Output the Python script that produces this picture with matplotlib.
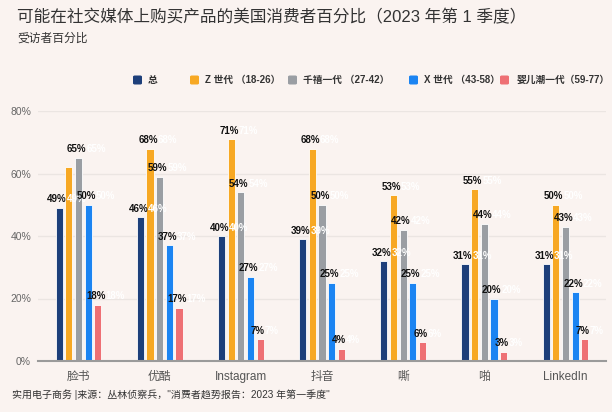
import matplotlib
matplotlib.use('Agg')
import matplotlib.pyplot as plt
import numpy as np
from matplotlib.patches import FancyBboxPatch

plt.rcParams['font.family'] = ['Liberation Sans', 'Noto Sans CJK SC', 'DejaVu Sans']

# ---------------- data ----------------
categories = ['脸书', '优酷', 'Instagram', '抖音', '嘶', '啪', 'LinkedIn']
series_names = ['总', 'Z 世代 （18-26）', '千禧一代 （27-42）', 'X 世代 （43-58）', '婴儿潮一代（59-77）']
total = [49, 46, 40, 39, 32, 31, 31]
gen_z = [62, 68, 71, 68, 53, 55, 50]
millennials = [65, 59, 54, 50, 42, 44, 43]
gen_x = [50, 37, 27, 25, 25, 20, 22]
boomers = [18, 17, 7, 4, 6, 3, 7]
y_ticks = [0, 20, 40, 60, 80]
hidden_labels = {(1, 0)}  # (series index, category index) labels not shown

series = [total, gen_z, millennials, gen_x, boomers]
colors = ['#1d3f7a', '#f7a823', '#9a9ea3', '#1b84f2', '#ee7074']

BG = '#faf3f0'
W, H = 612, 412
fig = plt.figure(figsize=(W / 100, H / 100), dpi=100, facecolor=BG)

def fx(px):
    return px / W

def fy(py):
    return 1 - py / H

ax_l, ax_r, ax_t, ax_b = 38, 606, 111, 361
ax = fig.add_axes([fx(ax_l), fy(ax_b), fx(ax_r - ax_l), (ax_b - ax_t) / H])
ax.set_facecolor(BG)

x = np.arange(len(categories))
pitch = 0.119
width = 0.088
offsets = (np.arange(len(series)) - 2) * pitch

for si, (vals, col) in enumerate(zip(series, colors)):
    bars = ax.bar(x + offsets[si], vals, width=width, color=col,
                  edgecolor='white', linewidth=0.6, zorder=3)
    for ci, (b, v) in enumerate(zip(bars, vals)):
        if (si, ci) in hidden_labels:
            continue
        t = ax.annotate(f'{v}%', xy=(b.get_x() + b.get_width() / 2, v),
                        xytext=(-1.5, 2.5), textcoords='offset points',
                        ha='center', va='bottom', fontsize=7, fontweight='bold',
                        color='#111111', zorder=6)
        ax.annotate(f'{v}%', xy=(1, 0), xycoords=t, xytext=(0, 0),
                    textcoords='offset points', ha='left', va='bottom',
                    fontsize=7, fontweight='bold', color='white', zorder=5)

ax.set_xlim(-0.5, len(categories) - 0.5)
ax.set_ylim(0, 80)
ax.set_yticks(y_ticks)
ax.set_yticklabels([f'{v}%' for v in y_ticks], fontsize=7.5, color='#666666')
ax.set_xticks(x)
ax.set_xticklabels(categories, fontsize=8.5, color='#555555')
ax.tick_params(axis='x', length=0, pad=7)
ax.tick_params(axis='y', length=0, pad=5)
ax.grid(axis='y', color='#ebe5e2', linewidth=1, zorder=0)
for s in ['top', 'right', 'left']:
    ax.spines[s].set_visible(False)
ax.spines['bottom'].set_color('#9a9a9a')
ax.spines['bottom'].set_linewidth(1.5)
ax.spines['bottom'].set_zorder(4)

# ---------------- titles ----------------
fig.text(fx(17), fy(17), '可能在社交媒体上购买产品的美国消费者百分比（2023 年第 1 季度）',
         fontsize=12, color='#333333', ha='left', va='center')
fig.text(fx(17), fy(39), '受访者百分比', fontsize=8.5, color='#333333', ha='left', va='center')

# ---------------- legend ----------------
sq_x = [133, 190, 288, 409, 500]
txt_x = [148, 205, 303, 424, 517]
ly = 80
for name, col, sx, tx in zip(series_names, colors, sq_x, txt_x):
    fig.patches.append(FancyBboxPatch((fx(sx), fy(ly + 4.5)), fx(9), 9 / H,
                                      boxstyle='round,pad=0,rounding_size=0.003',
                                      transform=fig.transFigure, facecolor=col,
                                      edgecolor='none'))
    fig.text(fx(tx), fy(ly), name, fontsize=7, fontweight='bold', color='#333333',
             ha='left', va='center')

# ---------------- source ----------------
fig.text(fx(12), fy(395), '实用电子商务 |来源：丛林侦察兵，"消费者趋势报告：2023 年第一季度"',
         fontsize=7.2, color='#333333', ha='left', va='center')

fig.savefig('out.png', dpi=100, facecolor=BG)
